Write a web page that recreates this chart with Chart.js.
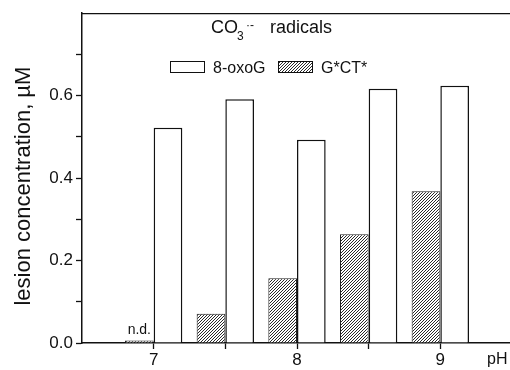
<!DOCTYPE html>
<html>
<head>
<meta charset="utf-8">
<script src="https://cdn.jsdelivr.net/npm/chart.js@4/dist/chart.umd.min.js"></script>
<style>
  html, body { margin: 0; padding: 0; background: #fff; overflow: hidden; }
  #wrap { width: 512px; height: 370px; }
</style>
</head>
<body>
<div id="wrap"><canvas id="c" width="512" height="370"></canvas></div>
<script>
// ---- data ----
const phValues = [7, 7.5, 8, 8.5, 9];
const oxoG = [0.522, 0.591, 0.493, 0.617, 0.624];
const gct = [0.006, 0.071, 0.157, 0.264, 0.368];
const yTicks = [0.0, 0.2, 0.4, 0.6];
const yMinor = [0.1, 0.3, 0.5, 0.7];
const xTicks = [7, 8, 9];
const xMinor = [7.5, 8.5];
const seriesNames = ['G*CT*', '8-oxoG'];
const notDetected = 'n.d.';
const titleParts = ['CO', '3', '·-', 'radicals'];
const yTitle = 'lesion concentration, \u00B5M';
const xTitle = 'pH';

const FONT = '"Liberation Sans", Arial, Helvetica, sans-serif';
const INK = '#111';

function makeHatch() {
  const c = document.createElement('canvas');
  c.width = 3; c.height = 3;
  const g = c.getContext('2d');
  g.fillStyle = '#fff';
  g.fillRect(0, 0, 3, 3);
  g.strokeStyle = '#2a2a2a';
  g.lineWidth = 1;
  g.beginPath();
  g.moveTo(0, 3); g.lineTo(3, 0);
  g.moveTo(-1, 1); g.lineTo(1, -1);
  g.moveTo(2, 4); g.lineTo(4, 2);
  g.stroke();
  return g.createPattern(c, 'repeat');
}
const hatch = makeHatch();

const decor = {
  id: 'decor',
  afterDraw(chart) {
    const ctx = chart.ctx;
    const a = chart.chartArea;
    ctx.save();
    // top frame line
    ctx.strokeStyle = INK;
    ctx.lineWidth = 1.3;
    ctx.beginPath();
    ctx.moveTo(a.left, a.top + 0.5);
    ctx.lineTo(a.right, a.top + 0.5);
    ctx.stroke();

    ctx.fillStyle = INK;
    ctx.textBaseline = 'alphabetic';
    // title CO3.- radicals
    ctx.font = '18px ' + FONT;
    ctx.textAlign = 'left';
    ctx.fillText(titleParts[0], 211, 33);
    ctx.font = '12px ' + FONT;
    ctx.fillText(titleParts[1], 237, 40);
    ctx.fillText(titleParts[2], 246, 29);
    ctx.font = '18px ' + FONT;
    ctx.fillText(titleParts[3], 270, 33);

    // legend
    const items = [
      { ds: chart.data.datasets[1], x: 170 },
      { ds: chart.data.datasets[0], x: 278 }
    ];
    ctx.font = '16px ' + FONT;
    items.forEach(it => {
      ctx.fillStyle = it.ds.backgroundColor;
      ctx.fillRect(it.x, 61, 35, 12);
      ctx.strokeStyle = INK;
      ctx.lineWidth = 1;
      ctx.strokeRect(it.x + 0.5, 61.5, 34, 11);
      ctx.fillStyle = INK;
      ctx.fillText(it.ds.label, it.x + 43, 73);
    });

    // n.d. label above the first G*CT* bar
    const b0 = chart.getDatasetMeta(0).data[0];
    ctx.font = '14px ' + FONT;
    ctx.textAlign = 'center';
    ctx.fillText(notDetected, b0.x, 334);

    // pH label
    ctx.font = '16px ' + FONT;
    ctx.textAlign = 'left';
    ctx.fillText(xTitle, 487, 364);

    // y title
    ctx.font = '22px ' + FONT;
    ctx.translate(30, (a.top + a.bottom) / 2 + 8);
    ctx.rotate(-Math.PI / 2);
    ctx.textAlign = 'center';
    ctx.fillText(yTitle, 0, 0);
    ctx.restore();
  }
};

new Chart(document.getElementById('c'), {
  type: 'bar',
  data: {
    datasets: [
      {
        label: seriesNames[0],
        data: phValues.map((x, i) => ({ x: x, y: gct[i] })),
        backgroundColor: hatch,
        borderColor: '#222',
        borderWidth: 1
      },
      {
        label: seriesNames[1],
        data: phValues.map((x, i) => ({ x: x, y: oxoG[i] })),
        backgroundColor: '#fff',
        borderColor: INK,
        borderWidth: 1.5
      }
    ]
  },
  plugins: [decor],
  options: {
    responsive: false,
    animation: false,
    devicePixelRatio: 1,
    layout: { padding: { top: 13, left: 0, right: 0, bottom: 0 } },
    categoryPercentage: 0.8,
    barPercentage: 1.0,
    plugins: {
      legend: { display: false },
      title: { display: false },
      tooltip: { enabled: false }
    },
    scales: {
      x: {
        type: 'linear',
        min: 6.5,
        max: 9.5,
        offset: false,
        afterBuildTicks: s => { s.ticks = xTicks.concat(xMinor).sort((p, q) => p - q).map(v => ({ value: v })); },
        afterFit: s => { s.height = 27; },
        grid: { display: true, drawOnChartArea: false, drawTicks: true, tickLength: 6, tickColor: INK, tickWidth: 1.3, offset: false },
        border: { display: true, color: INK, width: 1.5 },
        ticks: {
          autoSkip: false,
          maxRotation: 0,
          padding: 1,
          color: INK,
          font: { family: FONT, size: 17 },
          callback: v => xTicks.includes(v) ? String(v) : ''
        }
      },
      y: {
        min: 0,
        max: 0.8,
        afterBuildTicks: s => { s.ticks = yTicks.concat(yMinor).sort((p, q) => p - q).map(v => ({ value: v })); },
        afterFit: s => { s.width = 82; },
        grid: { display: true, drawOnChartArea: false, drawTicks: true, tickLength: 6, tickColor: INK, tickWidth: 1.3 },
        border: { display: true, color: INK, width: 1.5 },
        ticks: {
          autoSkip: false,
          padding: 3,
          color: INK,
          font: { family: FONT, size: 17 },
          callback: v => yTicks.some(t => Math.abs(t - v) < 1e-9) ? v.toFixed(1) : ''
        }
      }
    }
  }
});
</script>
</body>
</html>
